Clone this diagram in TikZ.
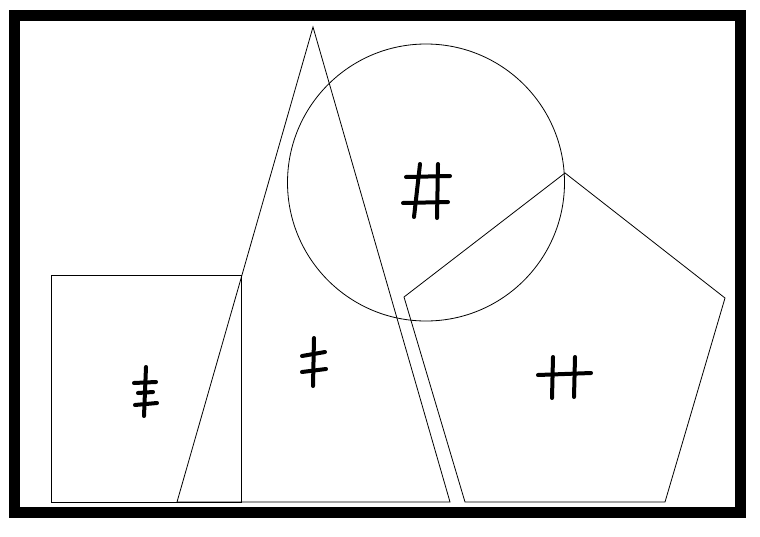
\documentclass[tikz,border=0pt]{standalone}
\usepackage{tikz}

\begin{document}
\begin{tikzpicture}[x=1pt,y=-1pt]
				\tikzstyle{every path}+=[line width=0.8pt]
				\tikzstyle{tally}=[black, line width=4pt, line cap=round]
				\useasboundingbox (0,0) rectangle (760,536);
				% frame
				\draw [black, line width=11pt] (14.5,15.5) rectangle (740,512.5);
				% shapes
				\draw [black] (51,275) rectangle (241,502);
				\draw [black] (313,27) -- (450,502) -- (177,502) -- cycle;
				\draw [black] (426,182.5) circle (138.5);
				\draw [black] (565,173) -- (725,298) -- (665,502) -- (465,502) -- (404,297) -- cycle;
				% marks in the square
				\draw [tally] (146,367) -- (144,416);
				\draw [tally] (134,383) -- (156,382);
				\draw [tally] (138,393) -- (153,392);
				\draw [tally] (135,405) -- (157,403);
				% marks in the triangle
				\draw [tally] (314,338) -- (313,386);
				\draw [tally] (302,356) -- (325,352);
				\draw [tally] (302,372) -- (326,369);
				% marks in the circle
				\draw [tally] (420,164) -- (414,217);
				\draw [tally] (438,164) -- (437,218);
				\draw [tally] (406,177) -- (450,176);
				\draw [tally] (403,203) -- (448,202);
				% marks in the pentagon
				\draw [tally] (553,357) -- (552,398);
				\draw [tally] (575,357) -- (574,397);
				\draw [tally] (538,375) -- (591,373);
			\end{tikzpicture}
\end{document}
